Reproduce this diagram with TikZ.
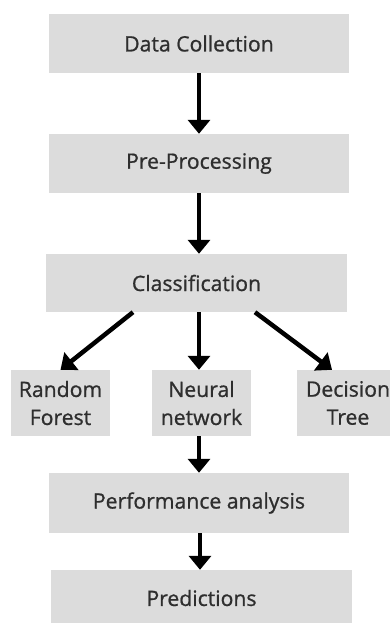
\documentclass[tikz,border=0pt]{standalone}
\usepackage{fontspec}
\newfontfamily\boxfont{Open Sans}[FakeBold=0.9]
\usetikzlibrary{arrows.meta,calc}
\definecolor{boxgray}{HTML}{DCDCDC}
\definecolor{txtgray}{HTML}{2E2E2E}
\tikzset{
  box/.style={fill=boxgray, draw=none, text=txtgray, inner sep=0pt,
    font=\boxfont\fontsize{21.2}{28}\selectfont, align=center},
  wide/.style={box, minimum width=300pt},
  arr/.style={line width=4.5pt, -{Triangle[width=22pt,length=14pt]}, black}
}
\begin{document}
\begin{tikzpicture}[x=1pt,y=-1pt]
\useasboundingbox (0,0) rectangle (389,623);
\node[wide, minimum height=59pt] (dc) at (199,43.5) {Data Collection};
\node[wide, minimum height=59pt] (pp) at (199,163.5) {Pre-Processing};
\node[wide, minimum width=301pt, minimum height=58pt] (cl) at (196.5,283) {Classification};
\node[box, minimum width=99pt, minimum height=66pt] (rf) at (60.5,403) {Random\\Forest};
\node[box, minimum width=99pt, minimum height=66pt] (nn) at (201.5,403) {Neural\\network};
\node[box, minimum width=102pt, minimum height=66pt] (dt) at (348,403) {Decision\\Tree};
\node[wide, minimum height=60pt] (pa) at (199,503) {Performance analysis};
\node[wide, minimum width=301pt, minimum height=56pt] (pr) at (201.5,598) {Predictions};
\draw[arr] (dc.south) -- (pp.north);
\draw[arr] (pp.south) -- (pp.south |- cl.north);
\draw[arr] ([xshift=-63.5pt]cl.south) -- (rf.north);
\draw[arr] ([xshift=2.5pt]cl.south) -- ([xshift=-2.5pt]nn.north);
\draw[arr] ([xshift=58.5pt]cl.south) -- ([xshift=-16pt]dt.north);
\draw[arr] ([xshift=-2.5pt]nn.south) -- (pa.north);
\draw[arr] ([xshift=1pt]pa.south) -- ([xshift=1pt]pa.south |- pr.north);
\end{tikzpicture}
\end{document}
